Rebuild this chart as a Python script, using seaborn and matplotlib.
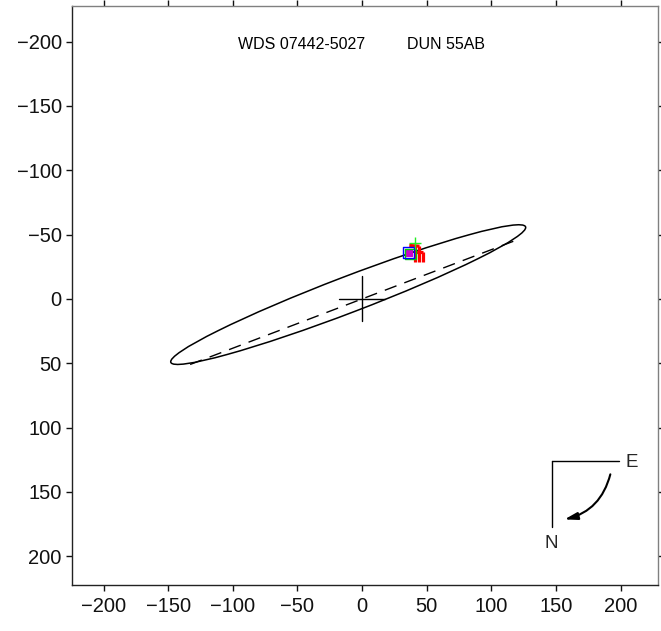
import matplotlib
matplotlib.use("Agg")
import matplotlib.pyplot as plt
import seaborn as sns
from matplotlib.patches import Ellipse, FancyArrowPatch

# ---------------- data ----------------
title_left = "WDS 07442-5027"
title_right = "DUN 55AB"
x_ticks = [-200, -150, -100, -50, 0, 50, 100, 150, 200]
y_ticks = [-200, -150, -100, -50, 0, 50, 100, 150, 200]

# orbit ellipse (center, semi-axes, angle)
orbit_center = (-10.7, -3.4)
orbit_a = 147.0
orbit_b = 14.0
orbit_angle = -21.0

# line of nodes (dashed)
node_x = [-133.0, 117.5]
node_y = [50.9, -45.0]

# primary star cross
cross_h_x = [-17.5, 17.5]
cross_h_y = [0.0, 0.0]
cross_v_x = [0.0, 0.0]
cross_v_y = [-17.5, 17.5]

# observations
micro_x = [41.0]
micro_y = [-43.3]
speck_blue_x = [36.2]
speck_blue_y = [-36.3]
speck_green_x = [37.5]
speck_green_y = [-35.0]
speck_mag_x = [36.4]
speck_mag_y = [-36.0]

# red measurement marks (segments)
red_x0 = [36.6, 41.2, 43.8, 47.2, 41.2]
red_y0 = [-41.6, -41.0, -41.0, -36.8, -36.8]
red_x1 = [44.5, 41.2, 43.8, 47.2, 47.2]
red_y1 = [-41.0, -28.8, -28.8, -28.8, -36.8]

# ---------------- style ----------------
sns.set_theme(style="ticks")
plt.rcParams["font.family"] = ["Liberation Sans", "DejaVu Sans"]

fig = plt.figure(figsize=(6.61, 6.31), dpi=100)
ax = fig.add_axes([72 / 661, 1 - 585 / 631, 586 / 661, 579 / 631])

# orbit
ax.add_patch(Ellipse(orbit_center, 2 * orbit_a, 2 * orbit_b, angle=orbit_angle,
                     fill=False, edgecolor="black", lw=1.1, zorder=2))
ax.plot(node_x, node_y, color="black", lw=1.0, linestyle=(0, (9, 6)), zorder=2)
ax.plot(cross_h_x, cross_h_y, color="black", lw=1.0, zorder=3)
ax.plot(cross_v_x, cross_v_y, color="black", lw=1.0, zorder=3)

# observations
for x0, y0, x1, y1 in zip(red_x0, red_y0, red_x1, red_y1):
    ax.plot([x0, x1], [y0, y1], color="#ff0000", lw=2.3, zorder=4,
            solid_capstyle="butt")
sns.scatterplot(x=speck_mag_x, y=speck_mag_y, marker="s", s=34, color="#cc00cc",
                edgecolor="none", ax=ax, zorder=5, legend=False)
sns.scatterplot(x=speck_green_x, y=speck_green_y, marker="s", s=60,
                facecolor="none", edgecolor="#00cc00", linewidth=1.0, ax=ax,
                zorder=6, legend=False)
sns.scatterplot(x=speck_blue_x, y=speck_blue_y, marker="s", s=60,
                facecolor="none", edgecolor="#0000ff", linewidth=1.0, ax=ax,
                zorder=6, legend=False)
sns.scatterplot(x=micro_x, y=micro_y, marker="+", s=80, color="#22ee22",
                linewidth=1.0, ax=ax, zorder=7, legend=False)

# limits / ticks
ax.set_xlim(-224.4, 229.0)
ax.set_ylim(222.3, -227.7)
ax.set_xticks(x_ticks)
ax.set_yticks(y_ticks)
ax.set_xticklabels([str(v).replace("-", "\u2212") for v in x_ticks])
ax.set_yticklabels([str(v).replace("-", "\u2212") for v in y_ticks])
ax.tick_params(axis="both", which="both", direction="out", length=4.3, width=1.0,
               labelsize=14.5, colors="#111111", pad=3)
ax.tick_params(axis="x", pad=4)
ax.tick_params(top=True, right=True, labeltop=False, labelright=False)
for side in ["left", "bottom"]:
    ax.spines[side].set_color("#222222")
    ax.spines[side].set_linewidth(1.0)
for side in ["top", "right"]:
    ax.spines[side].set_color("#808080")
    ax.spines[side].set_linewidth(1.0)
    ax.spines[side].set_visible(True)
for t in ax.xaxis.get_ticklines(minor=False)[1::2]:
    t.set_color("#808080")
for t in ax.yaxis.get_ticklines(minor=False)[1::2]:
    t.set_color("#808080")
ax.grid(False)
ax.set_facecolor("white")

# title texts
ax.text(-47, -197.5, title_left, ha="center", va="center", fontsize=11.5, color="black")
ax.text(65, -197.5, title_right, ha="center", va="center", fontsize=11.5, color="black")

# compass
ax.plot([0.8186, 0.934], [0.2147, 0.2147], transform=ax.transAxes, color="black", lw=1.0)
ax.plot([0.8186, 0.8186], [0.2147, 0.0997], transform=ax.transAxes, color="black", lw=1.0)
ax.text(0.956, 0.212, "E", transform=ax.transAxes, ha="center", va="center", fontsize=13.5)
ax.text(0.8186, 0.071, "N", transform=ax.transAxes, ha="center", va="center", fontsize=13.5)
arr = FancyArrowPatch((0.9198, 0.1958), (0.8357, 0.1122), transform=ax.transAxes,
                      connectionstyle="arc3,rad=-0.32",
                      arrowstyle="-|>,head_length=0.7,head_width=0.2",
                      mutation_scale=11, color="black", lw=1.5)
ax.add_patch(arr)

fig.savefig("out.png", dpi=100)
